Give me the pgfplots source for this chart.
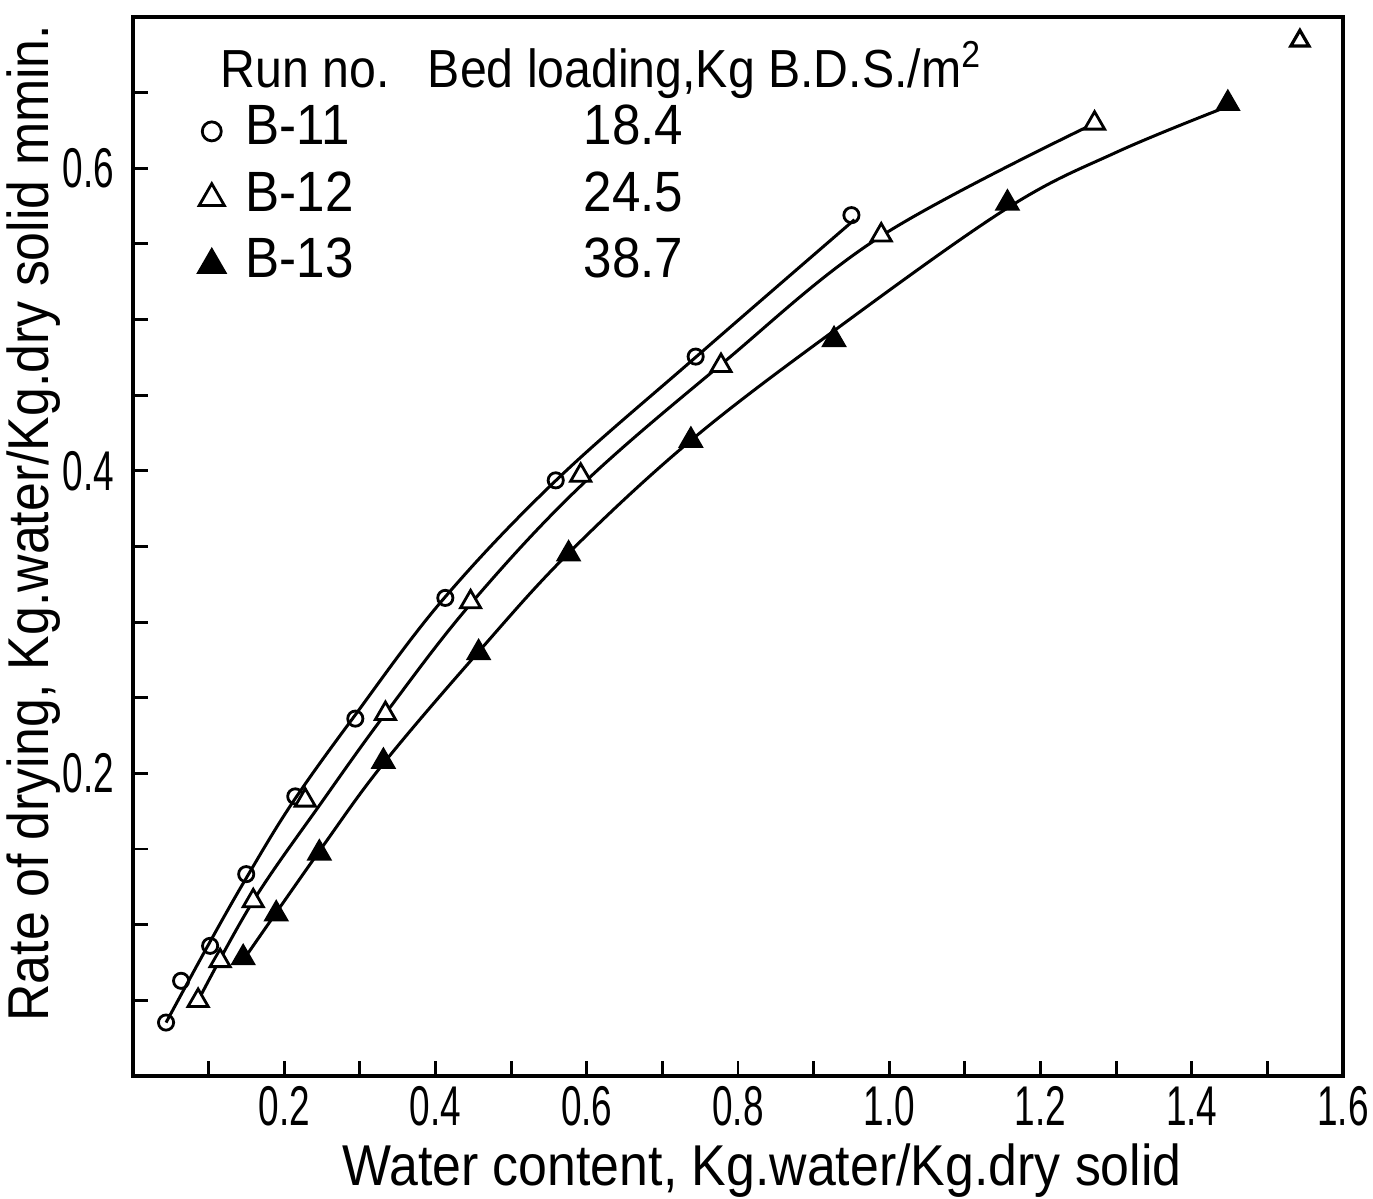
\documentclass[border=0pt]{standalone}
\usepackage{fontspec}
\setmainfont{Liberation Sans}[FakeStretch=0.9]
\newfontfamily\tickfamily{Liberation Sans}[FakeStretch=0.66]
\usepackage{pgfplots}
\pgfplotsset{compat=1.18}
\begin{document}
\begin{tikzpicture}
\begin{axis}[
  scale only axis, width=302.5pt, height=264.75pt,
  xmin=0, xmax=1.6, ymin=0, ymax=0.7,
  clip=false,
  axis line style={line width=0.9pt},
  tick align=inside, tick pos=left,
  major tick length=3.8pt, minor tick length=3.8pt,
  every tick/.style={black, line width=0.7pt},
  xtick={0.2,0.4,0.6,0.8,1.0,1.2,1.4,1.6},
  xticklabels={0.2,0.4,0.6,0.8,1.0,1.2,1.4,1.6},
  minor xtick={0.1,0.3,0.5,0.7,0.9,1.1,1.3,1.5},
  ytick={0.2,0.4,0.6}, yticklabels={0.2,0.4,0.6},
  minor ytick={0.05,0.1,0.15,0.25,0.3,0.35,0.45,0.5,0.55,0.65},
  tick label style={font=\tickfamily\fontsize{14}{16}\selectfont, inner sep=1pt},
  xticklabel style={yshift=-1.5pt},
  yticklabel style={xshift=-3.5pt},
  xlabel={Water content, Kg.water/Kg.dry solid},
  ylabel={Rate of drying, Kg.water/Kg.dry solid mmin.},
  label style={font=\fontsize{14.4}{17}\selectfont, inner sep=1pt},
  xlabel style={at={(axis description cs:0.5,0)}, anchor=base, yshift=-27.5pt, xshift=6pt},
  ylabel style={at={(axis description cs:-0.0695,0.522)}, anchor=base},
  legend style={at={(rel axis cs:0.053,0.922)}, anchor=north west, draw=none, fill=none,
    inner sep=0pt, column sep=4pt, row sep=1.2pt,
    nodes={text height=10pt, text depth=3.5pt, inner sep=1pt, anchor=west,
      font=\fontsize{14.2}{17}\selectfont}},
  legend cell align=left,
  legend image code/.code={\draw[#1, every mark/.append style={scale=1.25}] plot coordinates {(0pt,0pt)};},
]
\coordinate (ll) at (rel axis cs:0,0);
\coordinate (ur) at (rel axis cs:1,1);
% fitted curves
\addplot[black, line width=0.75pt, smooth, tension=0.6, forget plot] coordinates {
 (0.0437,0.0353) (0.100,0.087) (0.150,0.131) (0.210,0.180) (0.290,0.236)
 (0.410,0.315) (0.560,0.394) (0.745,0.4755) (0.954,0.566)};
\addplot[black, line width=0.75pt, smooth, tension=0.6, forget plot] coordinates {
 (0.0861,0.0498) (0.159,0.1157) (0.2503,0.1815) (0.3338,0.2395) (0.4464,0.312)
 (0.592,0.390) (0.7775,0.4702) (0.9894,0.5552) (1.2715,0.6297)};
\addplot[black, line width=0.75pt, smooth, tension=0.6, forget plot] coordinates {
 (0.1497,0.0794) (0.2477,0.1495) (0.3311,0.2065) (0.457,0.2804) (0.576,0.3456)
 (0.7377,0.4201) (0.927,0.4926) (1.1563,0.5737) (1.30,0.6105) (1.4477,0.6409)};
% data points
\addplot[only marks, mark=o, mark size=1.9pt, mark options={black, line width=0.7pt, fill=white}] coordinates {
 (0.0437,0.0353) (0.0636,0.0629) (0.102,0.086) (0.1497,0.1334) (0.2146,0.1848)
 (0.294,0.2362) (0.413,0.316) (0.559,0.3937) (0.744,0.4755) (0.950,0.569)};
\addlegendentry{\makebox[84.5pt][l]{B-11}18.4}
\addplot[only marks, mark=triangle*, mark size=2.9pt, mark options={black, line width=0.7pt, fill=white}] coordinates {
 (0.0861,0.0498) (0.1152,0.0761) (0.159,0.1157) (0.2278,0.1822) (0.3338,0.2395)
 (0.4464,0.3133) (0.592,0.397) (0.7775,0.4695) (0.9894,0.5558) (1.2715,0.6297)};
\addlegendentry{\makebox[84.5pt][l]{B-12}24.5}
\addplot[only marks, mark=triangle*, mark size=3.2pt, mark options={black, line width=0.5pt, fill=black}] coordinates {
 (0.1457,0.0781) (0.1894,0.1071) (0.2464,0.1473) (0.3311,0.2079) (0.457,0.2797)
 (0.576,0.345) (0.7377,0.4201) (0.927,0.4867) (1.1563,0.5769) (1.4477,0.6428)};
\addlegendentry{\makebox[84.5pt][l]{B-13}38.7}
\addplot[only marks, mark=triangle*, mark size=2.6pt, mark options={black, line width=0.8pt, fill=white}, forget plot] coordinates {
 (1.543,0.6843)};
\node[anchor=base west, inner sep=0pt, font=\fontsize{13.4}{16}\selectfont] at (rel axis cs:0.0719,0.933) {Run no.};
\node[anchor=base west, inner sep=0pt, font=\fontsize{13.4}{16}\selectfont] at (rel axis cs:0.243,0.933) {Bed loading,Kg B.D.S./m\textsuperscript{2}};
\end{axis}
\pgfresetboundingbox
\path[use as bounding box] ([xshift=-33.25pt,yshift=-30.75pt]ll) rectangle ([xshift=7.5pt,yshift=4.25pt]ur);
\end{tikzpicture}
\end{document}
